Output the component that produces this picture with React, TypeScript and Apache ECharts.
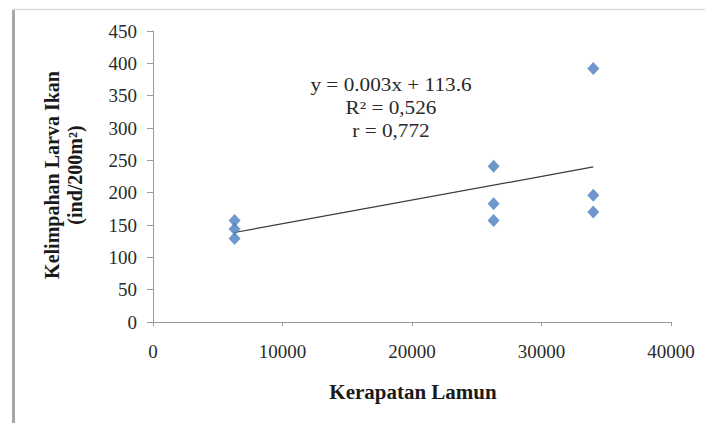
import React, { useEffect, useRef } from "react";
import * as echarts from "echarts";

const xValues: number[] = [6300, 6300, 6300, 26300, 26300, 26300, 34000, 34000, 34000];
const yValues: number[] = [157, 144, 129, 241, 183, 157, 392, 196, 170];
const xTicks = { min: 0, max: 40000, interval: 10000 };
const yTicks = { min: 0, max: 450, interval: 50 };
const equationLines: string[] = ["y = 0.003x + 113.6", "R\u00B2 = 0,526", "r = 0,772"];
const xTitle = "Kerapatan Lamun";
const yTitleLines: string[] = ["Kelimpahan Larva Ikan", "(ind/200m\u00B2)"];

function regression(xs: number[], ys: number[]) {
  const n = xs.length;
  const mx = xs.reduce((a, b) => a + b, 0) / n;
  const my = ys.reduce((a, b) => a + b, 0) / n;
  let sxy = 0;
  let sxx = 0;
  for (let i = 0; i < n; i++) {
    sxy += (xs[i] - mx) * (ys[i] - my);
    sxx += (xs[i] - mx) * (xs[i] - mx);
  }
  const slope = sxy / sxx;
  return { slope, intercept: my - slope * mx };
}

export default function App() {
  const ref = useRef<HTMLDivElement>(null);
  useEffect(() => {
    if (!ref.current) return;
    const chart = echarts.init(ref.current, null, { renderer: "svg" });
    const { slope, intercept } = regression(xValues, yValues);
    const xmin = Math.min(...xValues);
    const xmax = Math.max(...xValues);
    const trend = [
      [xmin, slope * xmin + intercept],
      [xmax, slope * xmax + intercept],
    ];
    const font = "'Liberation Serif', 'Times New Roman', serif";
    chart.setOption({
      animation: false,
      backgroundColor: "#ffffff",
      grid: { left: 153, right: 34, top: 31, bottom: 101, containLabel: false },
      xAxis: {
        type: "value",
        ...xTicks,
        axisLine: { show: true, lineStyle: { color: "#9a9a9a", width: 1 } },
        axisTick: { show: true, length: 4, inside: false, lineStyle: { color: "#9a9a9a" } },
        splitLine: { show: false },
        axisLabel: {
          fontFamily: font,
          fontSize: 19,
          color: "#2a2a2a",
          margin: 20,
          formatter: (v: number) => String(v),
        },
      },
      yAxis: {
        type: "value",
        ...yTicks,
        axisLine: { show: true, lineStyle: { color: "#9a9a9a", width: 1 } },
        axisTick: { show: true, length: 6, lineStyle: { color: "#9a9a9a" } },
        splitLine: { show: false },
        axisLabel: {
          fontFamily: font,
          fontSize: 19,
          color: "#2a2a2a",
          margin: 16,
          formatter: (v: number) => String(v),
        },
      },
      series: [
        {
          type: "line",
          data: trend,
          symbol: "none",
          lineStyle: { color: "#3a3a3a", width: 1.2 },
          z: 2,
        },
        {
          type: "scatter",
          data: xValues.map((x, i) => [x, yValues[i]]),
          symbol: "diamond",
          symbolSize: [12, 13],
          itemStyle: { color: "#4a7ebb" },
          z: 3,
        },
      ],
      graphic: [
        { type: "line", shape: { x1: 13.5, y1: 9, x2: 13.5, y2: 423 }, style: { stroke: "#a6a6a6", lineWidth: 3 } },
        { type: "line", shape: { x1: 12, y1: 9.5, x2: 705, y2: 9.5 }, style: { stroke: "#dcdcdc", lineWidth: 1.5 } },
        ...equationLines.map((t, i) => ({
          type: "text",
          x: 391,
          y: 85 + i * 23,
          scaleX: 1.18,
          style: {
            text: t,
            fontFamily: font,
            fontSize: 18,
            fill: "#2a2a2a",
            align: "center",
            verticalAlign: "middle",
          },
        })),
        {
          type: "text",
          x: 413,
          y: 392,
          scaleX: 1.05,
          style: {
            text: xTitle,
            fontFamily: font,
            fontSize: 20,
            fontWeight: "bold",
            fill: "#1a1a1a",
            align: "center",
            verticalAlign: "middle",
          },
        },
        ...yTitleLines.map((t, i) => ({
          type: "text",
          x: 52 + i * 23,
          y: 175,
          rotation: Math.PI / 2,
          style: {
            text: t,
            fontFamily: font,
            fontSize: 20,
            fontWeight: "bold",
            fill: "#1a1a1a",
            align: "center",
            verticalAlign: "middle",
          },
        })),
      ],
    });
    return () => chart.dispose();
  }, []);
  return (
    <div
      ref={ref}
      style={{ position: "fixed", left: 0, top: 0, width: 705, height: 423 }}
    />
  );
}
